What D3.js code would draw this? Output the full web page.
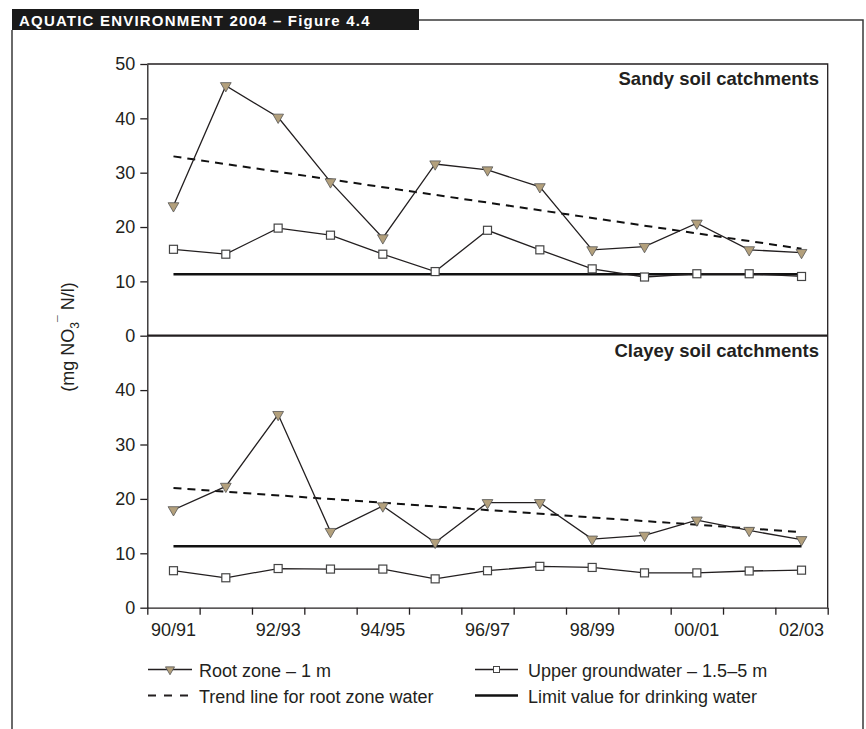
<!DOCTYPE html>
<html lang="en">
<head>
<meta charset="utf-8">
<title>Aquatic Environment 2004 - Figure 4.4</title>
<script src="https://d3js.org/d3.v7.min.js"></script>
<style>
  body { margin: 0; background: #fff; }
  svg text { font-family: "Liberation Sans", Arial, Helvetica, sans-serif; fill: #231f20; }
</style>
</head>
<body>
<script>
// seasons on the x axis
var years = ["90/91","91/92","92/93","93/94","94/95","95/96","96/97","97/98","98/99","99/00","00/01","01/02","02/03"];
var yearLabels = ["90/91","92/93","94/95","96/97","98/99","00/01","02/03"];

// mg NO3- N/l
var sandyRoot   = [23.9, 46.0, 40.2, 28.3, 18.0, 31.6, 30.5, 27.4, 15.8, 16.4, 20.7, 15.8, 15.3];
var sandyGround = [15.9, 15.0, 19.8, 18.5, 15.0, 11.8, 19.4, 15.8, 12.3, 10.8, 11.4, 11.4, 10.9];
var sandyTrend  = [33.0, 16.0];
var clayRoot    = [18.0, 22.3, 35.5, 14.0, 18.7, 12.0, 19.3, 19.3, 12.6, 13.3, 16.1, 14.2, 12.5];
var clayGround  = [6.8, 5.5, 7.2, 7.1, 7.1, 5.3, 6.8, 7.6, 7.4, 6.4, 6.4, 6.75, 6.9];
var clayTrend   = [22.0, 13.9];
var limitValue  = 11.3;
var yTicksTop = [0, 10, 20, 30, 40, 50];
var yTicksBot = [0, 10, 20, 30, 40];

var W = 866, H = 729;
var ink = "#231f20";
var tan = "#b3a07c";
var x0 = 147.3, x1 = 827.7;

var svg = d3.select("body").append("svg").attr("width", W).attr("height", H);

// header tab + frame
svg.append("rect").attr("x", 12).attr("y", 9).attr("width", 407).attr("height", 21).attr("fill", "#1a1a1a");
svg.append("text").attr("x", 19).attr("y", 25.5)
   .style("font-size", "15px").style("font-weight", "bold").style("letter-spacing", "1.2px")
   .style("fill", "#fff")
   .text("AQUATIC ENVIRONMENT 2004 – Figure 4.4");
svg.append("path")
   .attr("d", "M419,20H863V729M12,30V729")
   .attr("fill", "none").attr("stroke", "#3a3a3a").attr("stroke-width", 1.5);

var xBand = d3.scaleBand().domain(years).range([x0, x1]);
var xEdge = d3.scaleLinear().domain([0, years.length]).range([x0, x1]);
var yTop = d3.scaleLinear().domain([0, 50]).range([335.7, 64]);
var yBot = d3.scaleLinear().domain([0, 50]).range([607.7, 335.7]);
var cx = function(i) { return xBand(years[i]) + xBand.bandwidth() / 2; };

// panel frames
svg.append("path")
   .attr("d", "M" + x0 + "," + yTop(50) + "H" + x1 + "V" + yBot(0))
   .attr("fill", "none").attr("stroke", ink).attr("stroke-width", 1.3);
svg.append("line").attr("x1", x0).attr("x2", x1).attr("y1", yTop(0)).attr("y2", yTop(0))
   .attr("stroke", ink).attr("stroke-width", 2.2);

function styleAxis(g) {
  g.selectAll("path, line").attr("stroke", ink).attr("stroke-width", 1.3);
  g.selectAll("text").style("font-size", "18px").style("font-family", null).attr("fill", ink);
}

svg.append("g").attr("transform", "translate(" + x0 + ",0)")
   .call(d3.axisLeft(yTop).tickValues(yTicksTop).tickSize(7).tickSizeOuter(0).tickPadding(5))
   .call(styleAxis);
svg.append("g").attr("transform", "translate(" + x0 + ",0)")
   .call(d3.axisLeft(yBot).tickValues(yTicksBot).tickSize(7).tickSizeOuter(0).tickPadding(5))
   .call(styleAxis);

svg.append("g").attr("transform", "translate(0," + yBot(0) + ")")
   .call(d3.axisBottom(xEdge).tickValues(d3.range(years.length + 1)).tickSize(7).tickSizeOuter(0).tickFormat(""))
   .call(styleAxis);
svg.append("g").attr("transform", "translate(0," + yBot(0) + ")")
   .call(d3.axisBottom(xBand).tickValues(yearLabels).tickSize(0).tickPadding(16))
   .call(function(g) { g.select(".domain").remove(); })
   .call(styleAxis);

// y axis title, its end sits level with the "10" tick of the upper panel
var ylab = svg.append("text")
   .attr("transform", "translate(74," + (yTop(10) + 1) + ") rotate(-90)")
   .attr("text-anchor", "end").style("font-size", "18px");
ylab.append("tspan").text("(mg NO");
ylab.append("tspan").attr("dy", 5).style("font-size", "12px").text("3");
ylab.append("tspan").attr("dy", -12).style("font-size", "12px").text("¯");
ylab.append("tspan").attr("dy", 7).text(" N/l)");

var tri = d3.symbol().type(d3.symbolTriangle).size(50);

function drawPanel(y, root, ground, trend, title, titleY) {
  var g = svg.append("g");
  var line = d3.line().x(function(d, i) { return cx(i); }).y(function(d) { return y(d); });

  g.append("line").attr("x1", cx(0)).attr("x2", cx(years.length - 1))
   .attr("y1", y(limitValue)).attr("y2", y(limitValue))
   .attr("stroke", "#111").attr("stroke-width", 2.6);

  g.append("line").attr("x1", cx(0)).attr("x2", cx(years.length - 1))
   .attr("y1", y(trend[0])).attr("y2", y(trend[1]))
   .attr("stroke", "#111").attr("stroke-width", 2).attr("stroke-dasharray", "8,6");

  g.append("path").datum(ground).attr("d", line)
   .attr("fill", "none").attr("stroke", ink).attr("stroke-width", 1.3);
  g.append("path").datum(root).attr("d", line)
   .attr("fill", "none").attr("stroke", ink).attr("stroke-width", 1.3);

  g.selectAll(".sq").data(ground).enter().append("rect")
   .attr("x", function(d, i) { return cx(i) - 4; })
   .attr("y", function(d) { return y(d) - 4; })
   .attr("width", 8).attr("height", 8)
   .attr("fill", "#fff").attr("stroke", "#444").attr("stroke-width", 1.2);

  g.selectAll(".tri").data(root).enter().append("path")
   .attr("d", tri)
   .attr("transform", function(d, i) { return "translate(" + cx(i) + "," + y(d) + ") rotate(180)"; })
   .attr("fill", tan).attr("stroke", "#555").attr("stroke-width", 0.8);

  svg.append("text").attr("x", 819).attr("y", titleY).attr("text-anchor", "end")
   .style("font-size", "18.5px").style("font-weight", "bold").text(title);
}

drawPanel(yTop, sandyRoot, sandyGround, sandyTrend, "Sandy soil catchments", 85);
drawPanel(yBot, clayRoot, clayGround, clayTrend, "Clayey soil catchments", 357);

// legend
var lg = svg.append("g");
lg.append("line").attr("x1", 148).attr("x2", 192).attr("y1", 669.5).attr("y2", 669.5)
  .attr("stroke", ink).attr("stroke-width", 1.3);
lg.append("path").attr("d", d3.symbol().type(d3.symbolTriangle).size(36))
  .attr("transform", "translate(170,669.5) rotate(180)")
  .attr("fill", tan).attr("stroke", "#555").attr("stroke-width", 0.8);
lg.append("text").attr("x", 199).attr("y", 677).style("font-size", "18px").text("Root zone – 1 m");

lg.append("line").attr("x1", 148).attr("x2", 188).attr("y1", 695.5).attr("y2", 695.5)
  .attr("stroke", ink).attr("stroke-width", 2).attr("stroke-dasharray", "8,8");
lg.append("text").attr("x", 199).attr("y", 703).style("font-size", "18px").text("Trend line for root zone water");

lg.append("line").attr("x1", 475).attr("x2", 518).attr("y1", 669.5).attr("y2", 669.5)
  .attr("stroke", ink).attr("stroke-width", 1.3);
lg.append("rect").attr("x", 493.5).attr("y", 666.5).attr("width", 6).attr("height", 6)
  .attr("fill", "#fff").attr("stroke", "#444").attr("stroke-width", 1);
lg.append("text").attr("x", 528).attr("y", 677).style("font-size", "18px").text("Upper groundwater – 1.5–5 m");

lg.append("line").attr("x1", 475).attr("x2", 518).attr("y1", 695.5).attr("y2", 695.5)
  .attr("stroke", "#111").attr("stroke-width", 2.6);
lg.append("text").attr("x", 528).attr("y", 703).style("font-size", "18px").text("Limit value for drinking water");
</script>
</body>
</html>
